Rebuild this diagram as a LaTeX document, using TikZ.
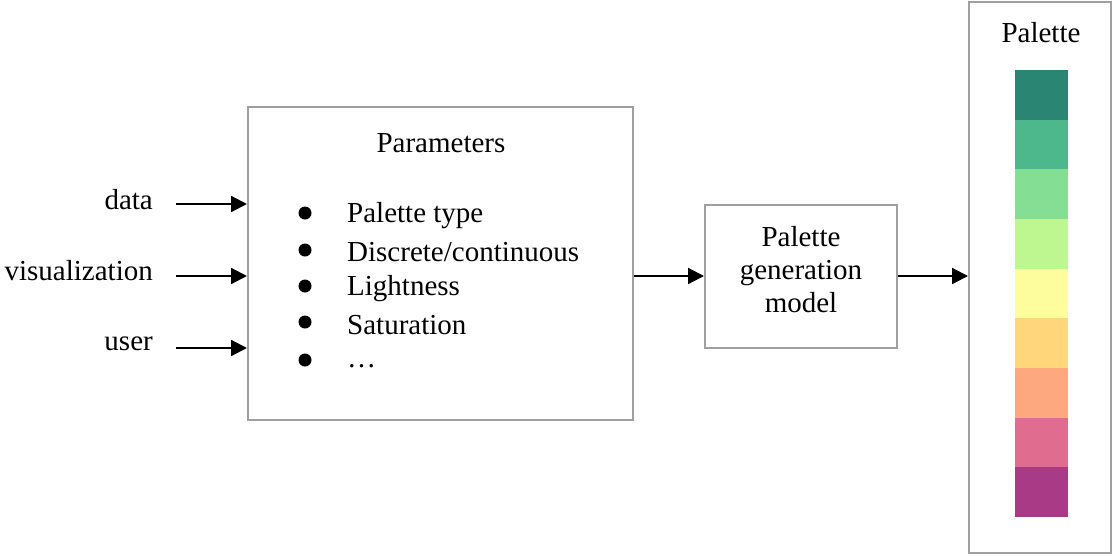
\documentclass[tikz,border=0pt]{standalone}
\usepackage{fontspec}
\setmainfont{Liberation Serif}
\usetikzlibrary{arrows.meta}
\definecolor{boxgray}{HTML}{A0A0A0}
\definecolor{cA}{HTML}{2A8672}
\definecolor{cB}{HTML}{4DB88C}
\definecolor{cC}{HTML}{84DF94}
\definecolor{cD}{HTML}{BEF78F}
\definecolor{cE}{HTML}{FDFD9E}
\definecolor{cF}{HTML}{FFD67A}
\definecolor{cG}{HTML}{FEA880}
\definecolor{cH}{HTML}{E06D8F}
\definecolor{cI}{HTML}{A93A86}
\tikzset{
  graybox/.style={draw=boxgray, line width=2pt, fill=white, inner sep=0pt},
  txt/.style={inner sep=0pt, font=\fontsize{29}{33}\selectfont},
  arr/.style={draw=black, line width=2.2pt, -{Triangle[length=16pt,width=16pt]}},
  bul/.style={circle, fill=black, inner sep=0pt, minimum size=13pt},
  swatch/.style={draw=none, inner sep=0pt, minimum width=53pt, minimum height=49.8pt}
}
\begin{document}
\begin{tikzpicture}[x=1pt,y=-1pt]
\useasboundingbox (0,0) rectangle (1113,555);
% parameters box
\node[graybox, minimum width=385pt, minimum height=313pt] (params) at (440.5,263.5) {};
\node[txt] (ptitle) at (441,143) {Parameters};
\foreach \i/\y/\by/\t in {1/214/213/{Palette type}, 2/250/250/{Discrete/continuous}, 3/287/286/{Lightness}, 4/323/322/{Saturation}, 5/364/360/{…}}{
  \node[bul] (b\i) at (305,\by) {};
  \node[txt, anchor=west] (it\i) at (347,\y+2) {\t};
}
% inputs
\node[txt, anchor=east] (ldata) at (153,200) {data};
\node[txt, anchor=east] (lvis) at (153,271) {visualization};
\node[txt, anchor=east] (luser) at (153,344) {user};
\coordinate (sdata) at (176,204);
\coordinate (svis) at (176,276);
\coordinate (suser) at (176,348);
\draw[arr] (sdata) -- (sdata -| params.west);
\draw[arr] (svis) -- (svis -| params.west);
\draw[arr] (suser) -- (suser -| params.west);
% model box
\node[graybox, minimum width=192pt, minimum height=143pt] (model) at (801,276) {};
\node[txt, align=center] (mtext) at (801,270) {Palette\\generation\\model};
% palette box
\node[graybox, minimum width=142pt, minimum height=551pt] (pal) at (1040,277) {};
\node[txt] (paltitle) at (1041,33) {Palette};
\foreach \i/\c in {0/cA,1/cB,2/cC,3/cD,4/cE,5/cF,6/cG,7/cH,8/cI}{
  \node[swatch, fill=\c] (sw\i) at (1041.5,{70+49.67*\i+24.83}) {};
}
% connectors
\draw[arr] (model.west -| params.east) -- (model.west);
\draw[arr] (model.east) -- (model.east -| pal.west);
\end{tikzpicture}
\end{document}
